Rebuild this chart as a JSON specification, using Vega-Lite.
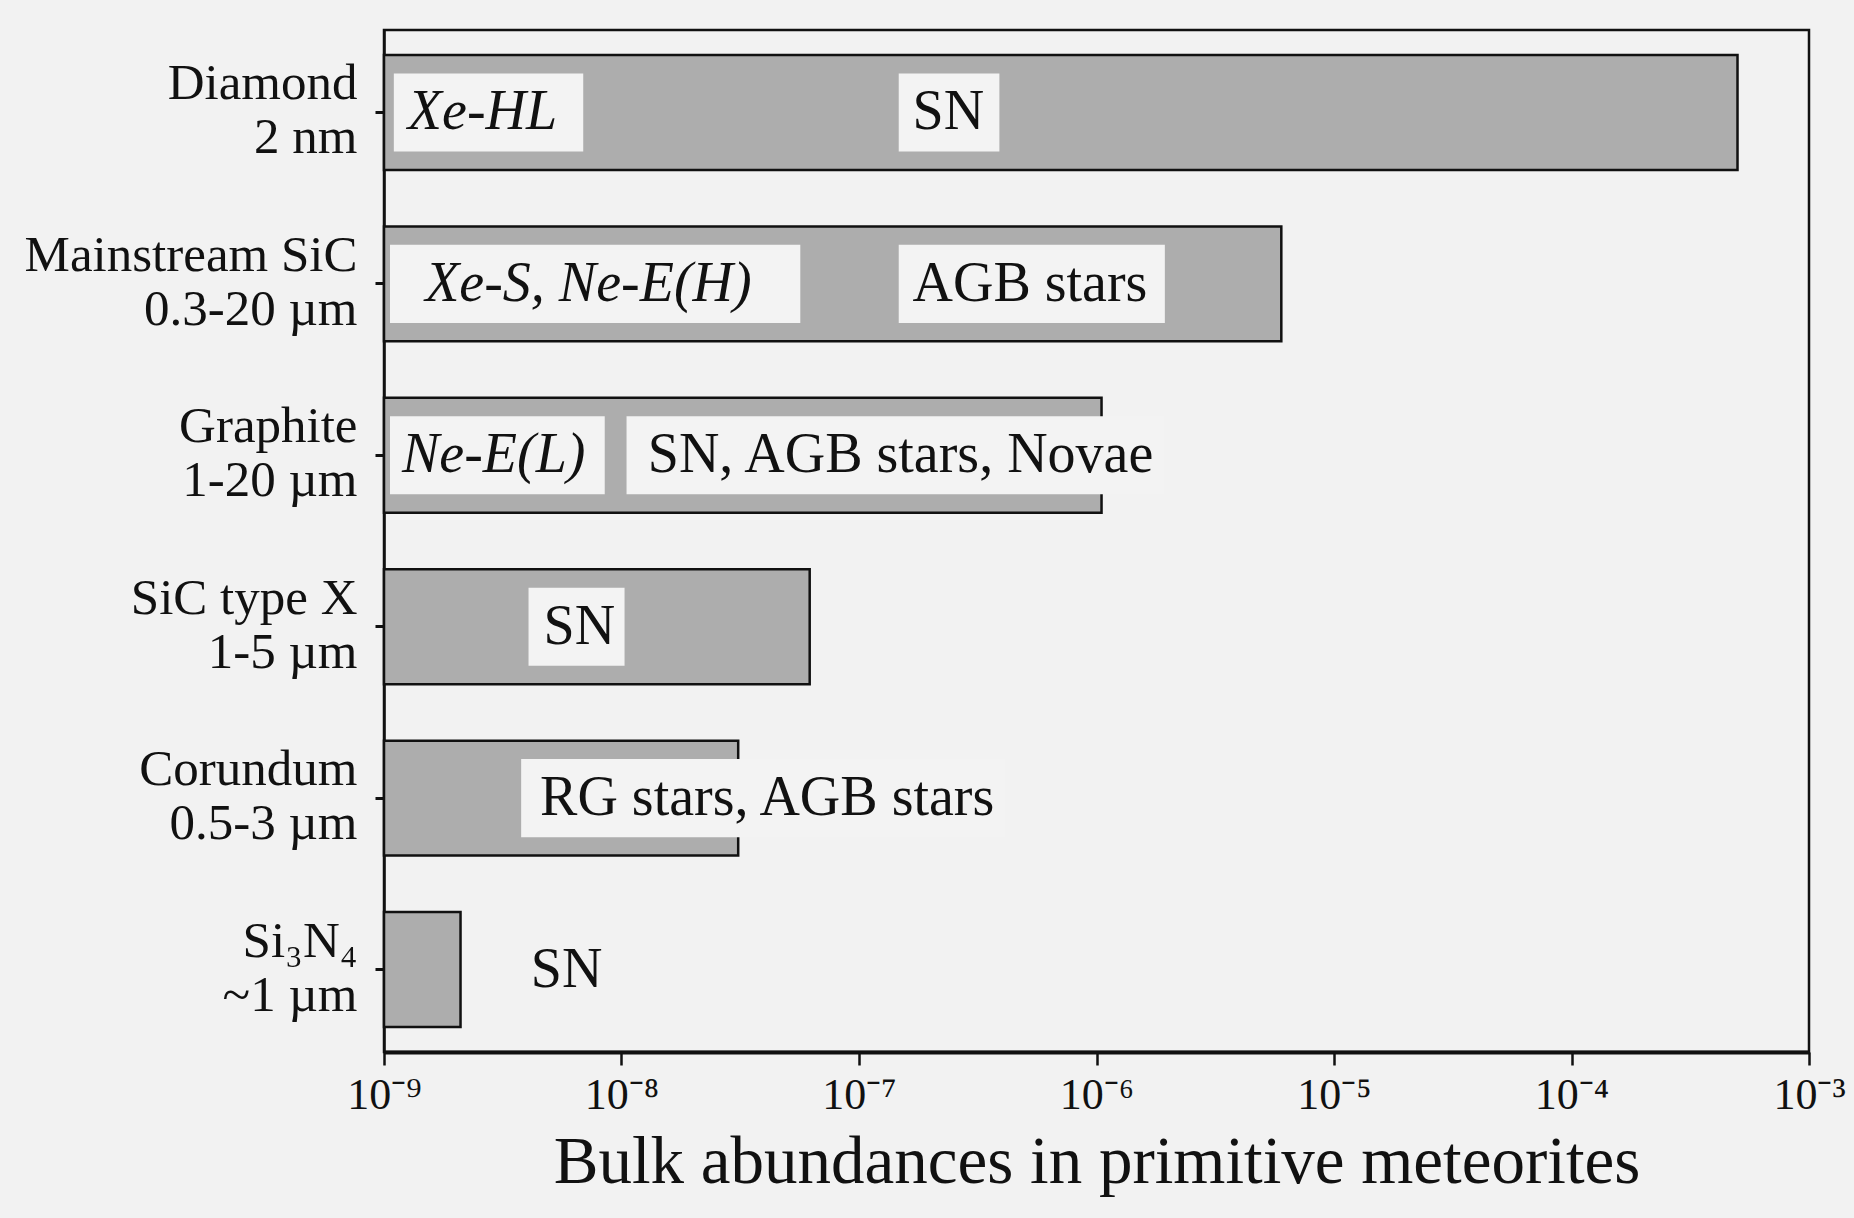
{
  "$schema": "https://vega.github.io/schema/vega-lite/v6.json",
  "width": 1425,
  "height": 1022,
  "autosize": "none",
  "padding": {"left": 384, "top": 30, "right": 45, "bottom": 166},
  "background": "#f2f2f2",
  "config": {
    "view": {"stroke": "#111111", "strokeWidth": 2.5, "fill": "#f2f2f2"},
    "font": "Liberation Serif"
  },
  "datasets": {
    "grains": [
      {"grain": "Diamond|2 nm", "abundance": 5.0e-4},
      {"grain": "Mainstream SiC|0.3-20 µm", "abundance": 6.0e-6},
      {"grain": "Graphite|1-20 µm", "abundance": 1.05e-6},
      {"grain": "SiC type X|1-5 µm", "abundance": 6.2e-8},
      {"grain": "Corundum|0.5-3 µm", "abundance": 3.1e-8},
      {"grain": "Si₃N₄|~1 µm", "abundance": 2.1e-9}
    ],
    "notes": [
      {"grain": "Diamond|2 nm", "text": "Xe-HL", "kind": "component", "at": 1.26e-9, "box_from": 1.10e-9, "box_to": 6.9e-9},
      {"grain": "Diamond|2 nm", "text": "SN", "kind": "source", "at": 1.68e-7, "box_from": 1.47e-7, "box_to": 3.9e-7},
      {"grain": "Mainstream SiC|0.3-20 µm", "text": "Xe-S, Ne-E(H)", "kind": "component", "at": 1.49e-9, "box_from": 1.06e-9, "box_to": 5.66e-8},
      {"grain": "Mainstream SiC|0.3-20 µm", "text": "AGB stars", "kind": "source", "at": 1.68e-7, "box_from": 1.47e-7, "box_to": 1.94e-6},
      {"grain": "Graphite|1-20 µm", "text": "Ne-E(L)", "kind": "component", "at": 1.19e-9, "box_from": 1.06e-9, "box_to": 8.5e-9},
      {"grain": "Graphite|1-20 µm", "text": "SN, AGB stars, Novae", "kind": "source", "at": 1.29e-8, "box_from": 1.05e-8, "box_to": 1.94e-6},
      {"grain": "SiC type X|1-5 µm", "text": "SN", "kind": "source", "at": 4.7e-9, "box_from": 4.06e-9, "box_to": 1.03e-8},
      {"grain": "Corundum|0.5-3 µm", "text": "RG stars, AGB stars", "kind": "source", "at": 4.54e-9, "box_from": 3.78e-9, "box_to": 4.1e-7},
      {"grain": "Si₃N₄|~1 µm", "text": "SN", "kind": "source", "at": 4.15e-9, "box_from": null, "box_to": null}
    ]
  },
  "encoding": {
    "y": {
      "field": "grain",
      "type": "nominal",
      "sort": null,
      "scale": {"paddingInner": 0.33, "paddingOuter": 0.146},
      "axis": {
        "title": null,
        "labelExpr": "split(datum.label, '|')",
        "labelFont": "Liberation Serif",
        "labelFontSize": 51,
        "labelLineHeight": 54,
        "labelOffset": -28,
        "labelColor": "#111111",
        "labelPadding": 18,
        "labelLimit": 500,
        "tickSize": 9,
        "tickWidth": 3,
        "tickColor": "#111111",
        "domainColor": "#111111",
        "domainWidth": 2.5
      }
    }
  },
  "layer": [
    {
      "data": {"name": "grains"},
      "mark": {"type": "bar", "fill": "#adadad", "stroke": "#111111", "strokeWidth": 2.5},
      "encoding": {
        "x": {
          "field": "abundance",
          "type": "quantitative",
          "scale": {"type": "log", "domain": [1e-9, 1e-3]},
          "axis": {
            "values": [1e-9, 1e-8, 1e-7, 1e-6, 1e-5, 1e-4, 1e-3],
            "labelExpr": "'10⁻' + substring('⁰¹²³⁴⁵⁶⁷⁸⁹', -round(log(datum.value)/LN10), -round(log(datum.value)/LN10) + 1)",
            "labelFont": "Liberation Serif",
            "labelFontSize": 44,
            "labelColor": "#111111",
            "labelPadding": 8,
            "labelFlush": false,
            "tickSize": 13,
            "tickWidth": 2.5,
            "tickColor": "#111111",
            "domainColor": "#111111",
            "domainWidth": 4,
            "grid": false,
            "title": "Bulk abundances in primitive meteorites",
            "titleFont": "Liberation Serif",
            "titleFontSize": 67,
            "titleFontWeight": "normal",
            "titleColor": "#111111",
            "titlePadding": 12
          }
        },
        "x2": {"datum": 1e-9}
      }
    },
    {
      "data": {"name": "notes"},
      "transform": [{"filter": "isValid(datum.box_from)"}],
      "mark": {"type": "bar", "fill": "#f3f3f3", "height": {"band": 0.68}},
      "encoding": {
        "x": {"field": "box_from", "type": "quantitative"},
        "x2": {"field": "box_to"}
      }
    },
    {
      "data": {"name": "notes"},
      "transform": [{"filter": "datum.kind === 'source'"}],
      "mark": {"type": "text", "align": "left", "baseline": "middle", "fontSize": 56, "color": "#111111", "font": "Liberation Serif"},
      "encoding": {
        "x": {"field": "at", "type": "quantitative"},
        "text": {"field": "text"}
      }
    },
    {
      "data": {"name": "notes"},
      "transform": [{"filter": "datum.kind === 'component'"}],
      "mark": {"type": "text", "align": "left", "baseline": "middle", "fontSize": 56, "fontStyle": "italic", "color": "#111111", "font": "Liberation Serif"},
      "encoding": {
        "x": {"field": "at", "type": "quantitative"},
        "text": {"field": "text"}
      }
    }
  ]
}
